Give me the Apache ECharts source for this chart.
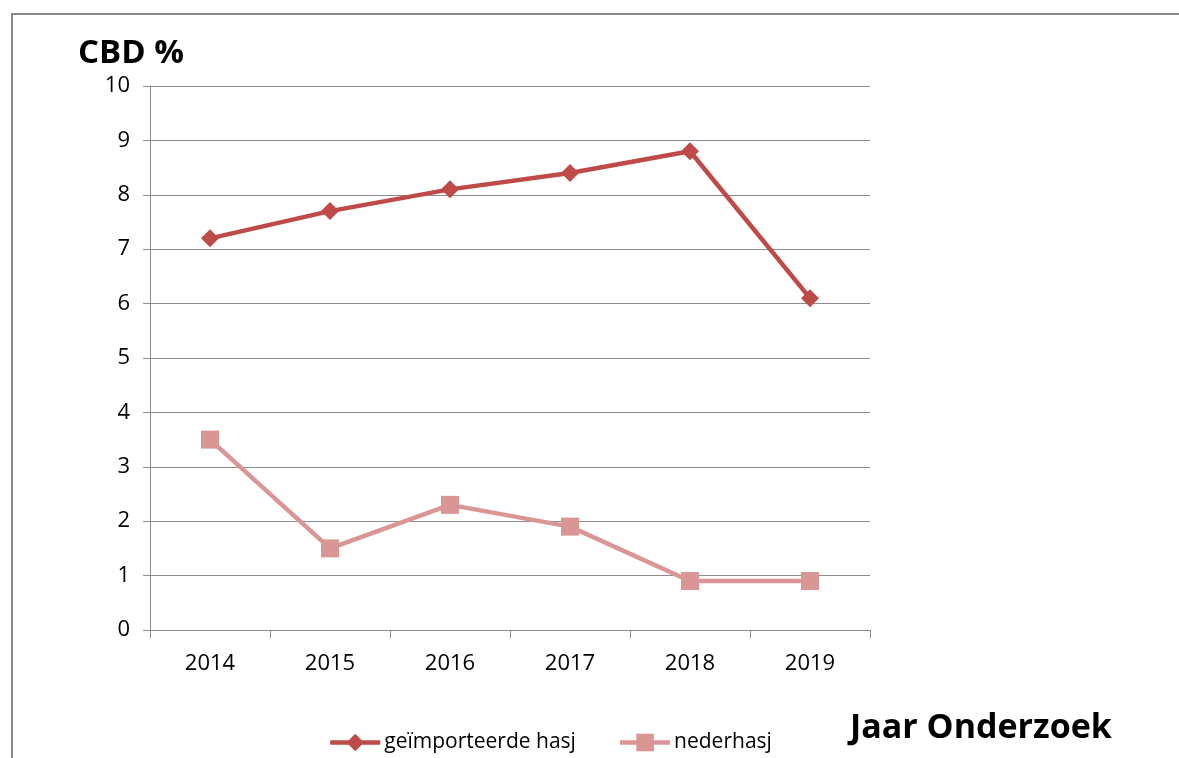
<!DOCTYPE html>
<html>
<head>
<meta charset="utf-8">
<script src="https://cdn.jsdelivr.net/npm/echarts@6/dist/echarts.min.js"></script>
<style>
  html, body { margin: 0; padding: 0; background: #fff; }
  #chart { width: 1179px; height: 758px; }
</style>
</head>
<body>
<div id="chart"></div>
<script>
// jaren van het onderzoek
var years = ['2014', '2015', '2016', '2017', '2018', '2019'];
// CBD % per soort hasj
var imported = [7.2, 7.7, 8.1, 8.4, 8.8, 6.1];
var dutch = [3.5, 1.5, 2.3, 1.9, 0.9, 0.9];

var gridColor = '#8c8c8c';
var font = 'Open Sans';

var chart = echarts.init(document.getElementById('chart'));
chart.setOption({
    animation: false,
    graphic: [
        {
            type: 'rect',
            shape: { x: 12, y: 14, width: 1200, height: 800 },
            style: { fill: 'none', stroke: '#8a8a8a', lineWidth: 2 },
            silent: true
        },
        {
            type: 'text',
            left: 78, top: 37,
            style: { text: 'CBD %', font: 'bold 33px "Open Sans"', fill: '#000' }
        },
        {
            type: 'text',
            left: 850, top: 711,
            style: { text: 'Jaar Onderzoek', font: 'bold 34px "Open Sans"', fill: '#000' }
        }
    ],
    grid: {
        left: 150,
        right: 309,
        top: 86,
        bottom: 128
    },
    legend: {
        left: 328,
        top: 732,
        padding: 0,
        itemWidth: 50,
        itemHeight: 22,
        itemGap: 42,
        lineStyle: { width: 4.5 },
        textStyle: { fontFamily: font, fontSize: 21, color: '#000', padding: [0, 0, 0, -1] },
        data: ['geïmporteerde hasj', 'nederhasj']
    },
    xAxis: {
        type: 'category',
        data: years,
        boundaryGap: true,
        axisLine: { lineStyle: { color: gridColor, width: 1 } },
        axisTick: { show: true, length: 8, lineStyle: { color: gridColor } },
        axisLabel: { fontFamily: font, fontSize: 22, color: '#000', margin: 23 }
    },
    yAxis: {
        type: 'value',
        min: 0,
        max: 10,
        interval: 1,
        axisLine: { show: true, lineStyle: { color: gridColor, width: 1 } },
        axisTick: { show: true, length: 7, lineStyle: { color: gridColor } },
        axisLabel: { fontFamily: font, fontSize: 22, color: '#000', margin: 20 },
        splitLine: { lineStyle: { color: gridColor, width: 1 } }
    },
    series: [
        {
            name: 'geïmporteerde hasj',
            type: 'line',
            data: imported,
            symbol: 'diamond',
            symbolSize: 18,
            lineStyle: { width: 4.5, color: '#BE4B48' },
            itemStyle: { color: '#BE4B48' }
        },
        {
            name: 'nederhasj',
            type: 'line',
            data: dutch,
            symbol: 'rect',
            symbolSize: 18,
            lineStyle: { width: 4.5, color: '#D99694' },
            itemStyle: { color: '#D99694' }
        }
    ]
});
</script>
</body>
</html>
